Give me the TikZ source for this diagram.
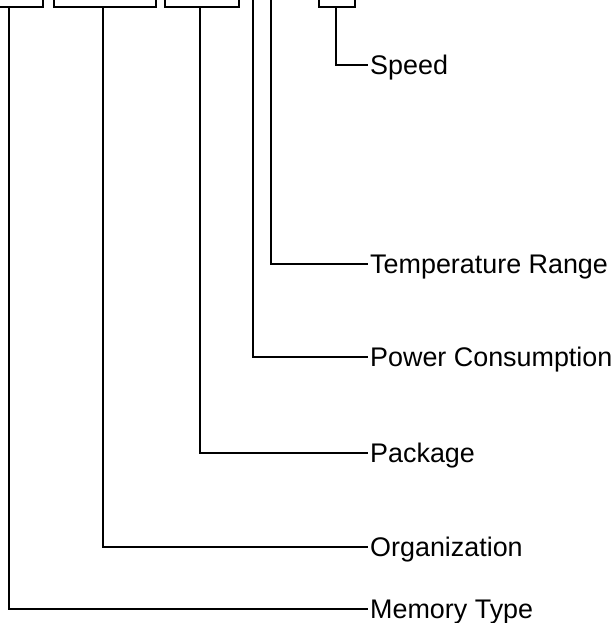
\documentclass[tikz,border=0pt]{standalone}
\usepackage{fontspec}
\setmainfont{Liberation Sans}
\begin{document}
\begin{tikzpicture}[x=1pt,y=-1pt,
  conn/.style={draw=black, line width=2pt},
  partbox/.style={draw=black, line width=2pt, rectangle, minimum height=40pt, inner sep=0pt},
  lbl/.style={anchor=west, inner xsep=2pt, inner ysep=0pt, text height=19.3pt, text depth=0pt,
    font=\fontsize{26.9}{32}\selectfont}]
\useasboundingbox (0,0) rectangle (611,623);
\begin{scope}
\clip (0,0) rectangle (611,623);
% boxes (mostly above the visible area)
\node[partbox, minimum width=65pt]  (b1) at (10.5,-13) {};
\node[partbox, minimum width=102pt] (b2) at (105,-13) {};
\node[partbox, minimum width=74pt]  (b3) at (202,-13) {};
\node[partbox, minimum width=36pt]  (b4) at (337,-13) {};
\coordinate (pc) at (253,-5);
\coordinate (tr) at (271,-5);
% labels
\node[lbl] (speed) at (368,65)  {Speed};
\node[lbl] (temp)  at (368,264) {Temperature Range};
\node[lbl] (power) at (368,357) {Power Consumption};
\node[lbl] (pack)  at (368,453) {Package};
\node[lbl] (org)   at (368,547) {Organization};
\node[lbl] (mem)   at (368,609) {Memory Type};
% connectors
\draw[conn] ([xshift=-1pt]b4.south) |- (speed.west);
\draw[conn] (tr) |- (temp.west);
\draw[conn] (pc) |- (power.west);
\draw[conn] ([xshift=-2pt]b3.south) |- (pack.west);
\draw[conn] ([xshift=-2pt]b2.south) |- (org.west);
\draw[conn] ([xshift=-1.5pt]b1.south) |- (mem.west);
\end{scope}
\end{tikzpicture}
\end{document}
